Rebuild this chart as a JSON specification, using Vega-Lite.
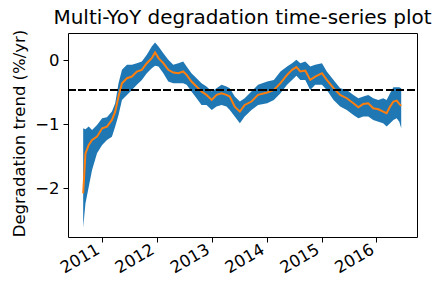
{
  "$schema": "https://vega.github.io/schema/vega-lite/v6.json",
  "width": 349,
  "height": 204,
  "autosize": {"type": "none"},
  "padding": {"left": 68, "top": 33, "right": 24, "bottom": 56},
  "background": "white",
  "title": {
    "text": "Multi-YoY degradation time-series plot",
    "font": "DejaVu Sans",
    "fontSize": 20,
    "fontWeight": "normal",
    "color": "black",
    "anchor": "middle",
    "frame": "group",
    "baseline": "alphabetic",
    "offset": 8,
    "dy": 23
  },
  "config": {
    "view": {"stroke": "black", "strokeWidth": 1},
    "axis": {
      "labelFont": "DejaVu Sans",
      "labelFontSize": 16.5,
      "labelColor": "black",
      "titleFont": "DejaVu Sans",
      "titleFontSize": 16.5,
      "titleFontWeight": "normal",
      "titleColor": "black",
      "grid": false,
      "domain": false,
      "tickColor": "black",
      "tickSize": 5,
      "tickWidth": 1
    }
  },
  "data": {
    "values": [
      {"date": "2010-08-30", "hi": -1.060, "mid": -2.078, "lo": -2.611},
      {"date": "2010-09-14", "hi": -1.076, "mid": -1.452, "lo": -2.235},
      {"date": "2010-10-06", "hi": -1.034, "mid": -1.321, "lo": -1.974},
      {"date": "2010-10-28", "hi": -1.086, "mid": -1.243, "lo": -1.713},
      {"date": "2010-11-30", "hi": -1.008, "mid": -1.191, "lo": -1.452},
      {"date": "2011-01-03", "hi": -0.903, "mid": -1.060, "lo": -1.321},
      {"date": "2011-02-04", "hi": -0.888, "mid": -1.034, "lo": -1.243},
      {"date": "2011-03-09", "hi": -0.799, "mid": -0.930, "lo": -1.191},
      {"date": "2011-03-31", "hi": -0.668, "mid": -0.799, "lo": -1.034},
      {"date": "2011-04-22", "hi": -0.355, "mid": -0.564, "lo": -0.851},
      {"date": "2011-05-15", "hi": -0.146, "mid": -0.355, "lo": -0.616},
      {"date": "2011-06-17", "hi": -0.068, "mid": -0.277, "lo": -0.538},
      {"date": "2011-07-20", "hi": -0.068, "mid": -0.251, "lo": -0.460},
      {"date": "2011-08-22", "hi": -0.042, "mid": -0.172, "lo": -0.381},
      {"date": "2011-09-24", "hi": -0.016, "mid": -0.146, "lo": -0.303},
      {"date": "2011-10-27", "hi": 0.089, "mid": -0.042, "lo": -0.198},
      {"date": "2011-11-29", "hi": 0.219, "mid": 0.037, "lo": -0.120},
      {"date": "2011-12-21", "hi": 0.282, "mid": 0.125, "lo": -0.084},
      {"date": "2012-01-13", "hi": 0.219, "mid": 0.037, "lo": -0.094},
      {"date": "2012-02-14", "hi": 0.115, "mid": -0.042, "lo": -0.198},
      {"date": "2012-03-18", "hi": 0.010, "mid": -0.146, "lo": -0.329},
      {"date": "2012-04-20", "hi": -0.068, "mid": -0.188, "lo": -0.355},
      {"date": "2012-05-24", "hi": -0.042, "mid": -0.198, "lo": -0.355},
      {"date": "2012-06-25", "hi": -0.016, "mid": -0.172, "lo": -0.355},
      {"date": "2012-07-18", "hi": -0.094, "mid": -0.225, "lo": -0.381},
      {"date": "2012-08-19", "hi": -0.198, "mid": -0.329, "lo": -0.486},
      {"date": "2012-09-22", "hi": -0.277, "mid": -0.407, "lo": -0.590},
      {"date": "2012-10-25", "hi": -0.355, "mid": -0.486, "lo": -0.695},
      {"date": "2012-11-27", "hi": -0.407, "mid": -0.538, "lo": -0.695},
      {"date": "2013-01-01", "hi": -0.486, "mid": -0.616, "lo": -0.773},
      {"date": "2013-02-02", "hi": -0.433, "mid": -0.538, "lo": -0.721},
      {"date": "2013-03-07", "hi": -0.381, "mid": -0.512, "lo": -0.695},
      {"date": "2013-04-09", "hi": -0.407, "mid": -0.538, "lo": -0.721},
      {"date": "2013-05-01", "hi": -0.433, "mid": -0.564, "lo": -0.773},
      {"date": "2013-06-03", "hi": -0.564, "mid": -0.721, "lo": -0.877},
      {"date": "2013-07-07", "hi": -0.642, "mid": -0.799, "lo": -0.982},
      {"date": "2013-08-08", "hi": -0.590, "mid": -0.695, "lo": -0.877},
      {"date": "2013-09-22", "hi": -0.486, "mid": -0.642, "lo": -0.773},
      {"date": "2013-11-05", "hi": -0.381, "mid": -0.538, "lo": -0.695},
      {"date": "2014-01-05", "hi": -0.329, "mid": -0.501, "lo": -0.668},
      {"date": "2014-02-18", "hi": -0.303, "mid": -0.460, "lo": -0.616},
      {"date": "2014-04-03", "hi": -0.172, "mid": -0.355, "lo": -0.512},
      {"date": "2014-05-17", "hi": -0.094, "mid": -0.225, "lo": -0.381},
      {"date": "2014-06-19", "hi": -0.042, "mid": -0.146, "lo": -0.303},
      {"date": "2014-07-18", "hi": 0.010, "mid": -0.104, "lo": -0.240},
      {"date": "2014-08-13", "hi": -0.042, "mid": -0.172, "lo": -0.303},
      {"date": "2014-09-15", "hi": -0.016, "mid": -0.157, "lo": -0.303},
      {"date": "2014-10-18", "hi": -0.094, "mid": -0.303, "lo": -0.460},
      {"date": "2014-11-20", "hi": -0.068, "mid": -0.251, "lo": -0.381},
      {"date": "2015-01-04", "hi": -0.042, "mid": -0.198, "lo": -0.381},
      {"date": "2015-02-05", "hi": -0.172, "mid": -0.303, "lo": -0.460},
      {"date": "2015-03-22", "hi": -0.303, "mid": -0.433, "lo": -0.616},
      {"date": "2015-05-05", "hi": -0.433, "mid": -0.538, "lo": -0.721},
      {"date": "2015-06-18", "hi": -0.460, "mid": -0.590, "lo": -0.773},
      {"date": "2015-08-01", "hi": -0.538, "mid": -0.668, "lo": -0.851},
      {"date": "2015-09-03", "hi": -0.590, "mid": -0.731, "lo": -0.903},
      {"date": "2015-10-06", "hi": -0.564, "mid": -0.679, "lo": -0.877},
      {"date": "2015-11-08", "hi": -0.538, "mid": -0.668, "lo": -0.877},
      {"date": "2015-12-11", "hi": -0.590, "mid": -0.747, "lo": -0.930},
      {"date": "2016-01-14", "hi": -0.616, "mid": -0.762, "lo": -0.956},
      {"date": "2016-02-15", "hi": -0.590, "mid": -0.799, "lo": -0.982},
      {"date": "2016-03-09", "hi": -0.616, "mid": -0.825, "lo": -1.034},
      {"date": "2016-04-01", "hi": -0.512, "mid": -0.721, "lo": -0.982},
      {"date": "2016-04-23", "hi": -0.418, "mid": -0.642, "lo": -0.930},
      {"date": "2016-05-15", "hi": -0.418, "mid": -0.627, "lo": -0.903},
      {"date": "2016-06-01", "hi": -0.418, "mid": -0.679, "lo": -0.956},
      {"date": "2016-06-14", "hi": -0.433, "mid": -0.710, "lo": -1.060}
    ]
  },
  "encoding": {
    "x": {
      "field": "date",
      "type": "temporal",
      "scale": {"domain": ["2010-05-21", "2016-09-27"]},
      "axis": {
        "title": null,
        "format": "%Y",
        "tickCount": {"interval": "year", "step": 1},
        "labelAngle": -30,
        "labelAlign": "right",
        "labelBaseline": "top",
        "labelPadding": -1,
        "labelOffset": -8,
        "labelOverlap": false
      }
    }
  },
  "layer": [
    {
      "mark": {"type": "area", "color": "#1f77b4", "opacity": 1},
      "encoding": {
        "y": {
          "field": "hi",
          "type": "quantitative",
          "scale": {"domain": [-2.76, 0.43], "nice": false, "zero": false},
          "axis": {
            "title": "Degradation trend (%/yr)",
            "values": [-2, -1, 0],
            "format": "d",
            "labelPadding": 4,
            "titleAngle": -90,
            "titleX": -44,
            "titleY": 100,
            "titleAlign": "center",
            "titleBaseline": "alphabetic"
          }
        },
        "y2": {"field": "lo"}
      }
    },
    {
      "mark": {"type": "line", "color": "#ff7f0e", "strokeWidth": 2},
      "encoding": {"y": {"field": "mid", "type": "quantitative"}}
    },
    {
      "mark": {"type": "rule", "color": "black", "strokeWidth": 2, "strokeDash": [7.4, 3.2]},
      "encoding": {"y": {"datum": -0.46, "type": "quantitative"}, "x": {"value": 0}, "x2": {"value": 349}}
    }
  ]
}
